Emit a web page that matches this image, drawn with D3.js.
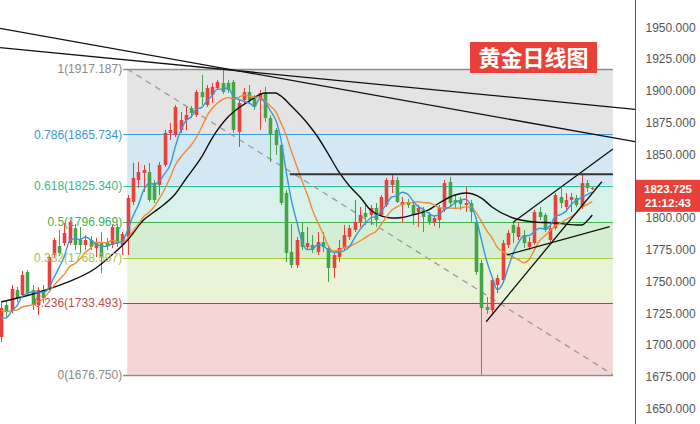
<!DOCTYPE html>
<html><head><meta charset="utf-8">
<script src="https://cdn.jsdelivr.net/npm/d3@7"></script>
<style>
body{margin:0;background:#fff;}
svg{display:block;font-family:"Liberation Sans",Arial,sans-serif;}
</style>
</head><body>
<svg id="chart" width="700" height="424"></svg>
<script>
// ---------- DATA ----------
const opens = [1706.4,1731.6,1727.6,1743.4,1739.4,1757.5,1743.4,1731.6,1743.4,1743.4,
1770.9,1778.0,1780.3,1780.3,1792.1,1782.7,1778.8,1782.7,1776.4,1780.3,
1781.1,1778.8,1792.9,1778.8,1785.1,1812.6,1829.9,1835.4,1836.2,1827.5,
1826.0,1841.7,1866.9,1865.3,1869.2,1877.1,1886.5,1881.0,1899.1,1888.9,
1896.8,1902.3,1906.2,1906.2,1907.0,1867.7,1892.8,1899.1,1894.4,1894.4,
1898.3,1878.7,1869.2,1857.4,1819.7,1773.3,1763.0,1789.0,1777.2,1778.8,
1773.3,1781.1,1776.4,1760.7,1769.3,1776.4,1785.1,1790.6,1796.9,1803.9,
1802.4,1807.9,1802.4,1810.2,1826.0,1829.9,1810.2,1812.6,1810.2,1804.7,
1806.3,1802.4,1796.1,1798.4,1806.3,1828.3,1814.2,1814.2,1810.2,1811.8,
1796.9,1764.6,1730.0,1727.6,1747.3,1751.2,1778.8,1794.5,1785.1,1786.6,
1777.2,1780.3,1804.7,1802.4,1782.7,1792.1,1816.5,1808.7,1814.2,1815.7,
1808.7,1827.5,1822.8];
const highs = [1733.1,1735.5,1747.3,1745.7,1758.3,1759.1,1747.3,1745.7,1747.3,1770.9,
1784.3,1790.6,1796.1,1798.4,1795.3,1792.9,1786.6,1785.8,1784.3,1789.0,
1784.3,1795.3,1795.3,1789.0,1818.1,1843.3,1844.1,1841.7,1843.3,1829.9,
1844.1,1869.2,1874.7,1888.9,1883.4,1887.3,1888.1,1900.7,1912.5,1904.6,
1906.2,1908.6,1917.187,1908.6,1908.6,1892.8,1902.3,1904.6,1896.8,1900.7,
1903.1,1881.0,1870.8,1859.8,1822.0,1795.3,1785.1,1796.1,1792.9,1786.6,
1789.0,1789.0,1778.8,1773.3,1782.7,1794.5,1794.5,1814.2,1808.7,1810.2,
1810.2,1811.8,1818.1,1831.5,1833.8,1832.3,1816.5,1815.0,1811.8,1810.2,
1808.7,1804.7,1802.4,1810.2,1829.9,1832.3,1818.1,1816.5,1824.4,1814.2,
1800.8,1767.0,1737.9,1752.8,1755.2,1782.7,1790.6,1796.9,1796.9,1790.6,
1785.1,1806.3,1808.7,1804.0,1796.1,1819.7,1823.6,1819.7,1819.7,1818.1,
1833.8,1829.9,1824.4];
const lows = [1702.5,1721.3,1725.3,1733.9,1737.9,1738.7,1727.6,1723.7,1733.1,1741.8,
1768.5,1770.1,1778.0,1778.8,1774.8,1772.5,1774.8,1774.8,1769.3,1756.7,
1774.8,1776.4,1777.2,1770.9,1770.9,1810.2,1823.6,1820.5,1812.6,1811.8,
1818.1,1840.1,1861.4,1863.7,1866.9,1869.2,1878.7,1879.5,1888.9,1887.3,
1890.5,1900.7,1897.5,1898.3,1866.9,1855.9,1888.9,1890.5,1885.0,1869.2,
1875.5,1844.1,1849.6,1810.2,1765.4,1760.7,1760.7,1774.8,1774.8,1772.5,
1770.9,1773.3,1749.7,1752.8,1765.4,1774.8,1782.7,1789.0,1792.9,1794.5,
1794.5,1792.9,1800.8,1808.7,1819.7,1811.8,1796.1,1807.9,1794.5,1792.9,
1789.0,1794.5,1793.7,1792.1,1804.7,1808.7,1807.9,1806.3,1804.7,1796.9,
1755.2,1676.75,1724.5,1723.7,1741.0,1749.7,1776.4,1780.3,1782.7,1776.4,
1774.8,1778.8,1798.4,1789.0,1780.3,1790.6,1807.9,1804.7,1804.7,1808.7,
1807.1,1820.5,1822.0];
const closes = [1729.2,1726.1,1744.2,1737.1,1755.2,1741.0,1731.6,1743.4,1737.1,1769.3,
1782.7,1772.5,1788.2,1796.9,1778.8,1778.8,1782.7,1777.2,1781.1,1769.3,
1778.0,1792.9,1780.3,1787.4,1815.7,1831.5,1836.2,1837.8,1814.2,1814.2,
1841.7,1866.9,1869.2,1887.3,1877.1,1881.0,1882.6,1899.1,1895.2,1902.3,
1903.1,1907.0,1899.1,1900.7,1869.2,1890.5,1899.1,1892.8,1887.3,1898.3,
1878.7,1865.3,1857.4,1811.8,1772.5,1763.0,1782.7,1777.2,1780.3,1774.8,
1781.1,1777.2,1760.7,1770.9,1776.4,1786.6,1792.1,1796.9,1802.4,1800.8,
1807.9,1798.4,1816.5,1829.9,1829.9,1812.6,1812.6,1810.2,1802.4,1807.9,
1800.8,1796.9,1800.0,1807.9,1827.5,1811.8,1811.8,1811.0,1811.8,1804.7,
1757.5,1729.2,1727.6,1751.2,1752.8,1780.3,1788.2,1788.2,1792.9,1780.3,
1781.1,1804.7,1800.8,1790.6,1792.1,1818.1,1811.8,1814.2,1816.5,1810.2,
1827.5,1823.6,1823.725];
// closes before the first visible candle (needed for the moving averages)
const priorCloses = [1738,1736,1733,1731,1731,1725,1718,1716,1718];

// long (black) average line: candle index / value
const blackIdx = [0,6,12,18,21,24,27,29,31,33,35,38,40,43,45,47,50,52,53,55,58,60,62,64,66,68,70,72,74,76,78,81,83,86,88,91,93,97,101,105,109,110,111,112];
const blackVal = [1733.9,1740.2,1748.5,1760.7,1770.9,1782.7,1798.4,1804.7,1811.0,1818.9,1830.7,1848.0,1862.9,1879.4,1886.5,1892.0,1898.3,1898.3,1896.0,1888.1,1874.7,1863.7,1850.3,1836.2,1825.2,1816.5,1806.3,1801.6,1800.0,1800.4,1802.4,1806.3,1811.8,1818.1,1819.7,1815.7,1808.7,1800.0,1796.9,1796.1,1794.5,1794.5,1797.6,1802.4];

// 1825.000 is covered by the last-price tag in the reference
const yTicks = [1650,1675,1700,1725,1750,1775,1800,1850,1875,1900,1925,1950];

const fibRatios = ['1', '0.786', '0.618', '0.5', '0.382', '0.236', '0'];
const fibPrices = [1917.187, 1865.734, 1825.340, 1796.969, 1768.597, 1733.493, 1676.750];
const fibLineColors = ['#8c8c8c','#3a9bd5','#2fbf9a','#3fb24a','#a6cc3c','#c83a32','#8c8c8c'];
const fibTextColors = ['#8a8a8a','#3d97d3','#33b98d','#3fb24a','#a9c34a','#c0504d','#8a8a8a'];
const fibFills = ['#e4e4e4','#d4e8f4','#d6f2ea','#d5eed3','#e9f4d6','#f4d6d5'];
const fibStart = 23.9, fibEnd = 115.9;

// trend lines: [idx1, price1, idx2, price2]
const trendLines = [
  [-0.2, 1949.2, 120.1, 1860.0],
  [-0.2, 1934.0, 120.1, 1885.5],
  [91.9, 1718.4, 113.8, 1828.5],
  [97.0, 1796.6, 115.9, 1854.3],
  [95.8, 1770.9, 115.3, 1793.2]
];
const resistance = [54.7, 115.9, 1834.4];

const lastPrice = 1823.725, lastTime = '21:12:43';
const title = '黄金日线图';

// ---------- CHART ----------
const svg = d3.select('#chart');
const plotRight = 635;
const x = d3.scaleLinear().domain([0, 112]).range([1, 592.3]);
const y = d3.scaleLinear().domain([1650, 1950]).range([408.7, 27.3]);
const upColor = '#e8413c', downColor = '#43a548';

svg.append('defs').append('clipPath').attr('id','plot')
  .append('rect').attr('x',0).attr('y',0).attr('width',plotRight).attr('height',424);
const g = svg.append('g').attr('clip-path','url(#plot)');

// fib fills
for (let i = 0; i < fibFills.length; i++) {
  g.append('rect')
    .attr('x', x(fibStart)).attr('width', x(fibEnd) - x(fibStart))
    .attr('y', y(fibPrices[i])).attr('height', y(fibPrices[i+1]) - y(fibPrices[i]))
    .attr('fill', fibFills[i]);
}
fibPrices.forEach((p, i) => {
  g.append('line')
    .attr('x1', x(fibStart) - 4).attr('x2', x(fibEnd))
    .attr('y1', Math.round(y(p)) + 0.5).attr('y2', Math.round(y(p)) + 0.5)
    .attr('stroke', fibLineColors[i]).attr('stroke-width', i === 0 || i === 6 ? 1.3 : 1);
});
// dashed diagonal
g.append('line')
  .attr('x1', x(fibStart)).attr('y1', y(fibPrices[0]))
  .attr('x2', x(fibEnd)).attr('y2', y(fibPrices[6]))
  .attr('stroke', '#9a9a9a').attr('stroke-width', 1.3).attr('stroke-dasharray', '6,5');

// candles
const cw = 3.6;
closes.forEach((c, i) => {
  const o = opens[i], up = c >= o, col = up ? upColor : downColor;
  const cx = Math.round(x(i)) + 0.5;
  g.append('line').attr('x1', cx).attr('x2', cx)
    .attr('y1', y(highs[i])).attr('y2', y(lows[i]))
    .attr('stroke', col).attr('stroke-width', 1);
  const top = y(Math.max(o, c)), bot = y(Math.min(o, c));
  g.append('rect').attr('x', cx - cw/2).attr('width', cw)
    .attr('y', top).attr('height', Math.max(1, bot - top))
    .attr('fill', col);
});

// moving averages
const allCloses = priorCloses.concat(closes);
function sma(n) {
  return closes.map((c, i) => {
    const j = i + priorCloses.length;
    let s = 0;
    for (let k = j - n + 1; k <= j; k++) s += allCloses[k];
    return s / n;
  });
}
const ma5 = sma(5), ma10 = sma(10);
const lineGen = d3.line().x(d => x(d[0])).y(d => y(d[1])).curve(d3.curveMonotoneX);
g.append('path').datum(blackIdx.map((d, i) => [d, blackVal[i]]))
  .attr('d', lineGen).attr('fill', 'none').attr('stroke', '#111').attr('stroke-width', 1.4);
g.append('path').datum(ma10.map((v, i) => [i, v]))
  .attr('d', lineGen).attr('fill', 'none').attr('stroke', '#f08a36').attr('stroke-width', 1.4);
g.append('path').datum(ma5.map((v, i) => [i, v]))
  .attr('d', lineGen).attr('fill', 'none').attr('stroke', '#3a97dc').attr('stroke-width', 1.4);

// trend lines
trendLines.forEach(t => {
  g.append('line')
    .attr('x1', x(t[0])).attr('y1', y(t[1]))
    .attr('x2', x(t[2])).attr('y2', y(t[3]))
    .attr('stroke', '#111').attr('stroke-width', 1.3);
});
g.append('line')
  .attr('x1', x(resistance[0])).attr('x2', x(resistance[1]))
  .attr('y1', y(resistance[2])).attr('y2', y(resistance[2]))
  .attr('stroke', '#333').attr('stroke-width', 2);

// fib labels
fibPrices.forEach((p, i) => {
  svg.append('text')
    .attr('x', x(fibStart) - 5).attr('y', y(p)).attr('dy', '0.35em')
    .attr('text-anchor', 'end').attr('font-size', 12)
    .attr('fill', fibTextColors[i])
    .text(fibRatios[i] + '(' + p.toFixed(3) + ')');
});

// title
const tg = svg.append('g');
tg.append('rect').attr('x', 470).attr('y', 42).attr('width', 127).attr('height', 31).attr('fill', '#e8413a');
tg.append('text').attr('x', 533.5).attr('y', 58).attr('dy', '0.36em')
  .attr('text-anchor', 'middle').attr('fill', '#fff')
  .attr('font-size', 22).attr('font-weight', 'bold')
  .attr('font-family', '"Noto Sans CJK SC",sans-serif')
  .text(title);

// right axis
const axis = d3.axisRight(y).tickValues(yTicks).tickFormat(d => d.toFixed(3)).tickSize(0).tickPadding(10);
const ag = svg.append('g').attr('transform', `translate(${plotRight + 0.5},0)`).call(axis);
ag.select('.domain').remove();
ag.selectAll('text').attr('font-size', 12).attr('fill', '#555').attr('font-family', '"Liberation Sans",Arial,sans-serif');
svg.append('line').attr('x1', plotRight + 0.5).attr('x2', plotRight + 0.5)
  .attr('y1', 0).attr('y2', 424).attr('stroke', '#555').attr('stroke-width', 1);

// last price tag
const py = y(lastPrice);
svg.append('rect').attr('x', plotRight + 1).attr('y', py - 8).attr('width', 700 - plotRight - 1).attr('height', 32).attr('fill', '#e8413a');
svg.append('text').attr('x', 668).attr('y', py + 1).attr('dy', '0.36em').attr('text-anchor', 'middle')
  .attr('fill', '#fff').attr('font-size', 11.5).attr('font-weight', 'bold').text(lastPrice.toFixed(3));
svg.append('text').attr('x', 668).attr('y', py + 15).attr('dy', '0.36em').attr('text-anchor', 'middle')
  .attr('fill', '#fff').attr('font-size', 11.5).attr('font-weight', 'bold').text(lastTime);
</script>
</body></html>
